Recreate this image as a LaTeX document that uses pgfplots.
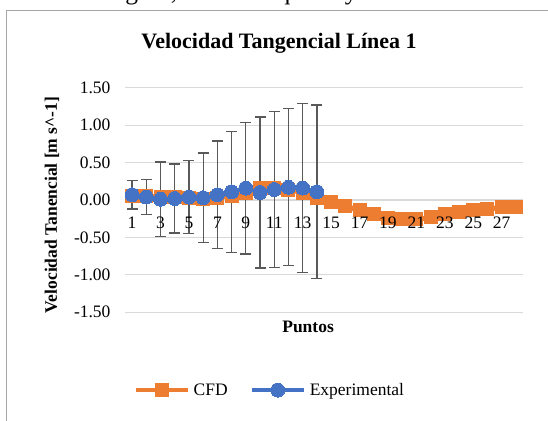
\documentclass[border=0pt]{standalone}
\usepackage{pgfplots}
\pgfplotsset{compat=1.18}
\usepackage{fontspec}
\setmainfont{Liberation Serif}

\definecolor{cfd}{HTML}{ED7D31}
\definecolor{expc}{HTML}{4472C4}
\definecolor{errc}{HTML}{595959}
\definecolor{gridc}{HTML}{D9D9D9}

\pgfplotsset{
  chartbox/.style={
    at={(125bp,-312.2bp)}, anchor=south west,
    scale only axis,
    width=398bp, height=224.4bp,
    xmin=0.5, xmax=28.5,
    ymin=-1.5, ymax=1.5,
    major tick length=0pt,
    axis line style={draw=none},
    font=\fontsize{17.5bp}{20bp}\selectfont,
    /pgf/number format/assume math mode=true,
  },
}

\begin{document}
\begin{tikzpicture}
\useasboundingbox (0,0) rectangle (548bp,-421bp);
\clip (0,0) rectangle (548bp,-421bp);
% text of the page above the chart, cut off at the top
\node[anchor=base east, inner sep=0, font=\fontsize{25.5bp}{28bp}\selectfont] at (542bp,1bp) {a en esta región, mientras que hay un estancamiento};
\draw[color=black!35, line width=1.5bp] (6.5bp,-425bp) -- (6.5bp,-10.5bp) -- (560bp,-10.5bp);
\begin{axis}[
  chartbox,
  xtick={1,3,...,27},
  xticklabels={},
  ytick={-1.5,-1,...,1.5},
  ymajorgrids=true,
  grid style={gridc, line width=1.3bp},
  yticklabel={\pgfmathprintnumber[fixed,fixed zerofill,precision=2]{\tick}},
  yticklabel style={xshift=-11bp},
  title={\textbf{Velocidad Tangencial Línea 1}},
  title style={font=\fontsize{22bp}{24bp}\selectfont, at={(axis description cs:0.387,1.17)}, anchor=center},
  xlabel={\textbf{Puntos}},
  xlabel style={at={(axis description cs:0.46,-0.066)}, anchor=center},
  ylabel={\textbf{Velocidad Tanencial [m s\^{}-1]}},
  ylabel style={at={(axis description cs:-0.1834,0.478)}, anchor=center},
  legend columns=2,
  legend style={draw=none, fill=none, at={(axis description cs:0.364,-0.347)}, anchor=center,
    font=\fontsize{17.5bp}{20bp}\selectfont,
    /tikz/every odd column/.append style={column sep=2bp},
    /tikz/every even column/.append style={column sep=20bp}},
  legend image code/.code={\draw[mark repeat=2, mark phase=2, line width=4bp, #1] plot coordinates {(0bp,0bp) (26bp,0bp) (52bp,0bp)};},
]
\addplot[cfd, line width=5bp, mark=square*, mark size=6.5bp, mark options={line width=0pt}] coordinates {
  (1,0.05) (2,0.05) (3,0.04) (4,0.04) (5,0.03) (6,0.02) (7,0.03)
  (8,0.06) (9,0.10) (10,0.16) (11,0.16) (12,0.14) (13,0.10) (14,0.03)
  (15,-0.03) (16,-0.08) (17,-0.14) (18,-0.19) (19,-0.24) (20,-0.26) (21,-0.26)
  (22,-0.23) (23,-0.19) (24,-0.16) (25,-0.14) (26,-0.12) (27,-0.10) (28,-0.09)
};
\addlegendentry{CFD}
\addplot[expc, line width=4bp, mark=*, mark size=7bp, mark options={line width=0pt},
  error bars/.cd, y dir=both, y explicit,
  error bar style={errc, line width=1.3bp},
  error mark options={errc, rotate=90, mark size=5.5bp, line width=1.3bp}] coordinates {
  (1,0.07) +- (0,0.19)
  (2,0.04) +- (0,0.23)
  (3,0.01) +- (0,0.50)
  (4,0.02) +- (0,0.46)
  (5,0.04) +- (0,0.49)
  (6,0.03) +- (0,0.60)
  (7,0.07) +- (0,0.72)
  (8,0.11) +- (0,0.81)
  (9,0.16) +- (0,0.88)
  (10,0.10) +- (0,1.01)
  (11,0.14) +- (0,1.04)
  (12,0.17) +- (0,1.05)
  (13,0.16) +- (0,1.13)
  (14,0.11) +- (0,1.16)
};
\addlegendentry{Experimental}
\end{axis}
% category labels drawn over the series, as in the reference
\begin{axis}[
  chartbox,
  xtick={1,3,...,27},
  ytick=\empty,
  xticklabel style={yshift=99bp},
]
\end{axis}
\end{tikzpicture}
\end{document}
